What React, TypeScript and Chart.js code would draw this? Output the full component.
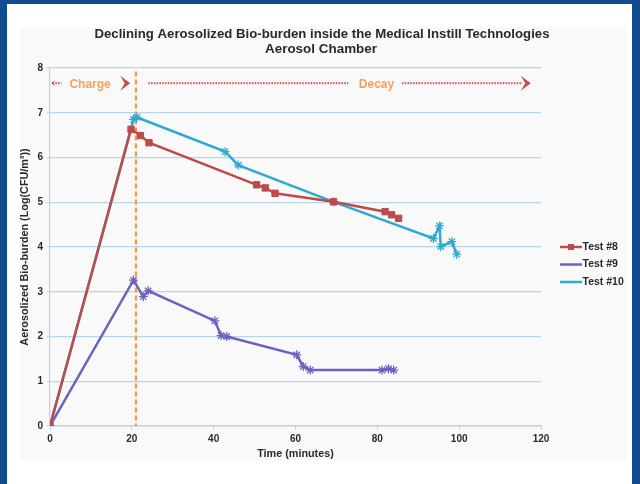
import React, { useEffect, useRef } from "react";
import { Chart, registerables } from "chart.js";
Chart.register(...registerables);

// ---- data ----
const titleLines = [
  "Declining Aerosolized Bio-burden inside the Medical Instill Technologies",
  "Aerosol Chamber",
];
const seriesNames = ["Test #8", "Test #9", "Test #10"];

const time8 = [0, 19.8, 22.1, 24.2, 50.5, 52.6, 55.0, 69.3, 81.9, 83.5, 85.2];
const val8 = [0, 6.63, 6.49, 6.33, 5.39, 5.32, 5.2, 5.01, 4.79, 4.72, 4.64];

const time9 = [0, 20.4, 22.8, 24.0, 40.3, 41.8, 43.2, 60.3, 61.9, 63.6, 81.1, 82.7, 84.0];
const val9 = [0, 3.26, 2.89, 3.02, 2.35, 2.02, 2.0, 1.59, 1.33, 1.25, 1.25, 1.28, 1.25];

const time10 = [0, 20.4, 21.2, 42.8, 46.0, 69.3, 93.7, 95.2, 95.5, 98.2, 99.4];
const val10 = [0, 6.85, 6.9, 6.13, 5.83, 5.01, 4.19, 4.47, 4.01, 4.12, 3.84];

const xTicks = [0, 20, 40, 60, 80, 100, 120];
const yTicks = [0, 1, 2, 3, 4, 5, 6, 7, 8];
const xTitle = "Time (minutes)";
const yTitle = "Aerosolized Bio-burden (Log(CFU/m³))";

const chargeLabel = "Charge";
const decayLabel = "Decay";
const chargeEndTime = 21; // vertical dashed line position (minutes)
const phaseLevel = 7.66; // y level of the phase arrows

const FONT = "'Liberation Sans', Arial, sans-serif";
const TEXT = "#262b30";
const GRID = "#b9d6e8";
const COLORS = ["#bd4b49", "#6d62c1", "#2ea9d3"];

export default function App() {
  const ref = useRef<HTMLCanvasElement>(null);

  useEffect(() => {
    const canvas = ref.current!;
    const pts = (xs: number[], ys: number[]) => xs.map((x, i) => ({ x, y: ys[i] }));

    const decor = {
      id: "decor",
      beforeDraw(chart: any) {
        const c = chart.ctx;
        c.save();
        c.fillStyle = "#ffffff";
        c.fillRect(0, 0, chart.width, chart.height);
        c.fillStyle = "#f9f9fa";
        c.fillRect(20, 27, 607, 433);
        c.restore();
      },
      beforeDatasetsDraw(chart: any) {
        const c = chart.ctx;
        const xs = chart.scales.x;
        const ys = chart.scales.y;
        const px = xs.getPixelForValue(chargeEndTime);
        c.save();
        c.strokeStyle = "#f39a3e";
        c.lineWidth = 2.2;
        c.setLineDash([5, 3]);
        c.beginPath();
        c.moveTo(px, ys.getPixelForValue(7.92));
        c.lineTo(px, ys.getPixelForValue(0));
        c.stroke();
        c.restore();
      },
      afterDraw(chart: any) {
        const c = chart.ctx;
        const xs = chart.scales.x;
        const ys = chart.scales.y;
        c.save();
        // title
        c.fillStyle = TEXT;
        c.font = `bold 13.5px ${FONT}`;
        c.textAlign = "center";
        c.textBaseline = "middle";
        c.fillText(titleLines[0], 322, 34, 455);
        c.fillText(titleLines[1], 321, 49.5, 112);

        // phase arrows
        const py = ys.getPixelForValue(phaseLevel);
        const dotted = (x1: number, x2: number) => {
          c.save();
          c.strokeStyle = "#d06a6c";
          c.lineWidth = 2.2;
          c.setLineDash([1.6, 1.2]);
          c.beginPath();
          c.moveTo(x1, py);
          c.lineTo(x2, py);
          c.stroke();
          c.restore();
        };
        const head = (x: number, dir: number, size: number) => {
          c.save();
          c.fillStyle = "#c0504d";
          c.beginPath();
          c.moveTo(x, py);
          c.lineTo(x - dir * size, py - size * 0.75);
          c.lineTo(x - dir * size * 0.55, py);
          c.lineTo(x - dir * size, py + size * 0.75);
          c.closePath();
          c.fill();
          c.restore();
        };
        // left small arrow
        dotted(xs.getPixelForValue(0.6), xs.getPixelForValue(2.8));
        head(xs.getPixelForValue(0.3), -1, 4);
        // Charge label
        c.fillStyle = "#f3a25a";
        c.font = `bold 12px ${FONT}`;
        c.textAlign = "center";
        c.fillText(chargeLabel, xs.getPixelForValue(9.8), py + 1);
        head(xs.getPixelForValue(19.6), 1, 10);
        // decay dotted
        dotted(xs.getPixelForValue(24), xs.getPixelForValue(72.9));
        c.fillStyle = "#f3a25a";
        c.fillText(decayLabel, xs.getPixelForValue(79.8), py + 1);
        dotted(xs.getPixelForValue(86), xs.getPixelForValue(115.5));
        head(xs.getPixelForValue(117.5), 1, 10);

        // legend
        c.font = `bold 10.5px ${FONT}`;
        c.textAlign = "left";
        c.textBaseline = "middle";
        const rows = [247, 264.5, 282];
        seriesNames.forEach((name, i) => {
          const y = rows[i];
          c.strokeStyle = COLORS[i];
          c.lineWidth = 2.5;
          c.beginPath();
          c.moveTo(560, y);
          c.lineTo(582, y);
          c.stroke();
          if (i === 0) {
            c.fillStyle = COLORS[i];
            c.fillRect(568, y - 3, 6, 6);
          }
          c.fillStyle = TEXT;
          c.fillText(name, 582.5, y);
        });

        // frame border
        c.fillStyle = "#0f4d8e";
        c.fillRect(0, 0, chart.width, 4);
        c.fillRect(0, 0, 7, chart.height);
        c.fillRect(632, 0, 8, chart.height);
        c.restore();
      },
    };

    const chart = new Chart(canvas, {
      type: "line",
      data: {
        datasets: [
          {
            label: seriesNames[0],
            data: pts(time8, val8),
            borderColor: COLORS[0],
            backgroundColor: COLORS[0],
            borderWidth: 2.5,
            pointStyle: "rect",
            pointRadius: 4.5,
            pointBorderWidth: 1,
            tension: 0,
          },
          {
            label: seriesNames[1],
            data: pts(time9, val9),
            borderColor: COLORS[1],
            backgroundColor: COLORS[1],
            borderWidth: 2.5,
            pointStyle: "star",
            pointRadius: 4.5,
            pointBorderWidth: 1.3,
            tension: 0,
          },
          {
            label: seriesNames[2],
            data: pts(time10, val10),
            borderColor: COLORS[2],
            backgroundColor: COLORS[2],
            borderWidth: 2.5,
            pointStyle: "star",
            pointRadius: 4.5,
            pointBorderWidth: 1.3,
            tension: 0,
          },
        ],
      },
      options: {
        animation: false,
        responsive: false,
        layout: { padding: { left: 0, right: 99, top: 68, bottom: 18 } },
        plugins: {
          legend: { display: false },
          title: { display: false },
          tooltip: { enabled: false },
        },
        scales: {
          x: {
            type: "linear",
            min: 0,
            max: 120,
            afterBuildTicks: (s: any) => {
              s.ticks = xTicks.map((v) => ({ value: v }));
            },
            afterFit: (s: any) => {
              s.height = 40;
            },
            grid: {
              display: true,
              drawOnChartArea: false,
              color: GRID,
              tickLength: 4,
            },
            border: { color: GRID, width: 1.5 },
            ticks: {
              color: TEXT,
              font: { family: FONT, size: 10, weight: "bold" },
              padding: 3,
              maxRotation: 0,
            },
            title: {
              display: true,
              text: xTitle,
              color: TEXT,
              font: { family: FONT, size: 10.8, weight: "bold" },
              padding: { top: 0, bottom: 5 },
            },
          },
          y: {
            type: "linear",
            min: 0,
            max: 8,
            afterBuildTicks: (s: any) => {
              s.ticks = yTicks.map((v) => ({ value: v }));
            },
            afterFit: (s: any) => {
              s.width = 50;
            },
            grid: { color: GRID, lineWidth: 1.2, tickLength: 3 },
            border: { color: GRID, width: 1.2 },
            ticks: {
              color: TEXT,
              font: { family: FONT, size: 10, weight: "bold" },
              padding: 4,
            },
            title: {
              display: true,
              text: yTitle,
              color: TEXT,
              font: { family: FONT, size: 10.8, weight: "bold" },
              padding: { top: 19, bottom: 0 },
            },
          },
        },
      },
      plugins: [decor],
    });
    return () => chart.destroy();
  }, []);

  return (
    <div style={{ position: "fixed", left: 0, top: 0, width: 640, height: 484 }}>
      <canvas ref={ref} width={640} height={484} style={{ display: "block", width: 640, height: 484 }} />
    </div>
  );
}
